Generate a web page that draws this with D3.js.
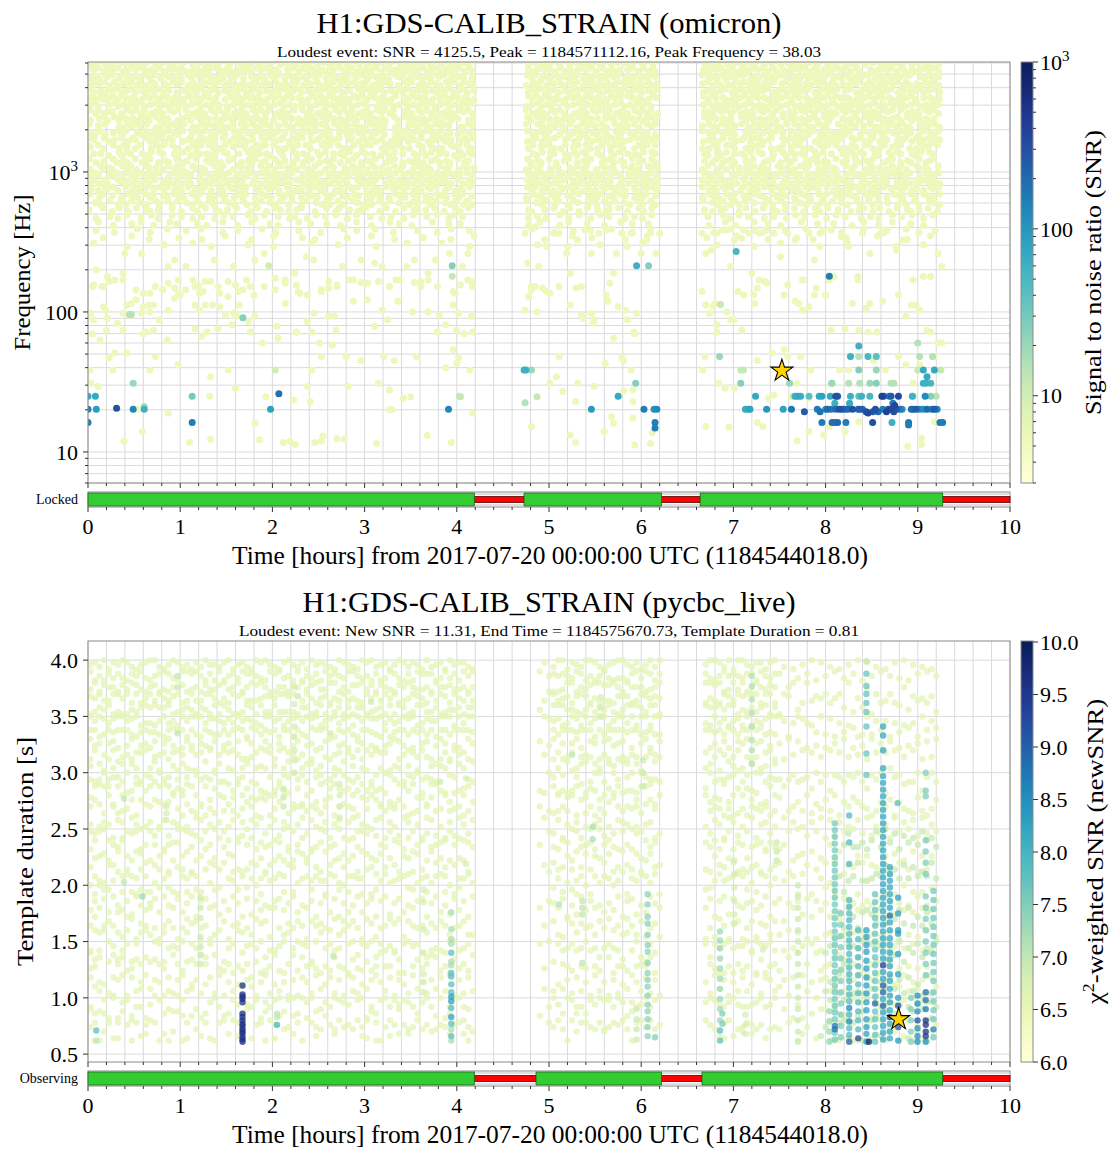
<!DOCTYPE html>
<html>
<head>
<meta charset="utf-8">
<script src="https://cdn.jsdelivr.net/npm/d3@7"></script>
<style>
  body { margin: 0; background: #fff; }
  svg text { font-family: "Liberation Serif", "DejaVu Serif", serif; fill: #000; }
</style>
</head>
<body>
<div id="chart"></div>
<script>
// ---------------- shared axis data ----------------
const hourRange = [0, 10];
const hourTicks = [0, 1, 2, 3, 4, 5, 6, 7, 8, 9, 10];
const xLabel = 'Time [hours] from 2017-07-20 00:00:00 UTC (1184544018.0)';

// ---------------- panel 1: omicron ----------------
const omiTitle = 'H1:GDS-CALIB_STRAIN (omicron)';
const omiSubtitle = 'Loudest event: SNR = 4125.5, Peak = 1184571112.16, Peak Frequency = 38.03';
const omiFreqRange = [6, 6100];
const omiFreqTicks = [10, 100, 1000];
const omiFreqLabels = ['10', '100', '10^3'];
const omiSnrRange = [3, 1000];
const omiSnrTicks = [10, 100, 1000];
const omiSnrLabels = ['10', '100', '10^3'];
const omiLoudest = [7.526, 38.03];

// dense high-frequency band: one row per 0.05 decade from 10^3.78 down,
// one cell per 0.05 h, digit 1-9 = a trigger (digit gives its place in the cell)
const omiBandTop = 3.78, omiBandStep = 0.05, omiBandCell = 0.05, omiBandSnr = 5.5;
const omiBandStarts = [0, 4.74, 6.65];
const omiBandEnds = [4.19, 6.22, 9.27];
const omiBandRows = [
  '528371946258 173946285739 462918375264 918273645192 837465291837 264591738264 591837264528 | 374615928374 562918374651 92837 | 618273945162 837491625384 719264835172 946381527394 6182',
  '947261835947 261839457126 384952716384 957261.48395 726184935726 148395627184 935726148392 | 615847293615 847293615.47 29361 | 538472916358 472916358472 91635847291. 635847291635 8472',
  '261947385261 947385261947 3852619473.5 261947385261 947385261947 385261947385 2619473852.1 | 847362915847 362915847362 91584 | 736291548736 291548736291 548736291548 7362915487.6 2915',
  '385729164837 295.61847392 658173942615 837492615738 491627385914 736285.19473 628519473862 | 195738462917 384629157384 62915 | 472816395728 1639.5728163 957281639572 816395728163 9572',
  '716394825716 394825.16394 825716394825 716394825716 394825716.94 825716394825 716394825716 | 394825716394 825716394825 71639 | 258147369258 147369258147 369258.47369 258147369258 1473',
  '639158274613 958274613958 2746.3958274 613958274613 958274613958 2746139.8274 613958274613 | 958274613958 274613958.74 61395 | 827461395827 461395827461 395827461395 82746139582. 4613',
  '481.59263748 159263748159 26374.159263 748159263.48 159263748159 2.3748159263 748159263748 | 1592637.8159 263748159263 7481. | 592637481592 63.481592637 481592637481 5926.7481592 6374',
  '837264.19582 73641958.736 419582736419 582736419.82 736419582736 4195827.6419 582736419582 | 736419582.36 419582736419 58273 | 641958273641 958273.41958 273641958273 641958.73641 9582',
  '2.5819374625 819374.25819 374625819374 625.19374625 819374625819 37462.819374 625819374.25 | 819374625819 3746.5819374 62581 | 9374625.9374 625819374625 81937.625819 374625819374 625.',
  '7.49..318574 9.3185749.31 85749318.749 3185.4931857 7493.8574931 18574.31.574 9318574.3185 | 7.93185749.1 857493.85749 3.857 | 493185749.18 5749318.7493 1857.93185.4 9318574931.5 7493',
  '6283.5917.62 835917628.59 176283.91762 8359176.8359 17628.591762 83591.628359 1762835.1762 | 835917.28359 176283.91762 835.1 | 76283591.628 359176.83591 762835917.28 3591762835.1 7628',
  '94.826.7394. 8267394.2673 9482.7394826 .9482673948. 2673948.6739 4826.394826. 7394826.3948 | 2673948.6739 .8267394826. 73948 | 26739.826739 8267.948267. 3948267.9482 67394.267394 4826',
  '5.71.8395.17 .3958.71.395 8.7139.58713 958.713958.7 1.958.7139.5 87.3958713.9 5.713.958.71 | 39.587139.58 .7139.5871.3 958.7 | 1395.871.395 87.139.58713 .958.71395.8 7139.587.139 58.7',
  '.46.2.9184.6 29.84.629.18 4629.84.6.91 8462.91.8462 .918.4629.18 46.2918.4.62 918.46.29184 | .629.84.6291 84.62.918.46 29.84 | 62.918.4629. 84.6.918462. 918.4.629184 .62.9184.629 .84.',
  '73.5.8162.73 58.162.735.8 .6273.58.162 735.816.2735 8.16273.58.1 627.358.1627 3.58162.735. | 8162.73.58.1 627.358162.7 35.81 | 6.273581.627 .358.1627.35 8162.735.816 27.358.162.7 358.',
  '2.9461.8372. 946.18372.94 61.837.29461 .83729.46183 37.294.61837 2946.1837.29 461.837.2946 | 1837.294.618 37.29461.837 2.946 | 18.3729.4618 372.946.1837 .29461.837.2 946.18372.94 61.8',
  '584.61729358 4617.293584. 1729358.4617 293584617.29 358.46172935 8461729.5846 172935846.72 | 935846.17293 584617293.58 46172 | 93584.617293 5846172935.4 617293.58461 7293584617.2 9358',
  '37291.845372 918.4537291. 4537291845.3 72918453.729 184537291.84 537.29184537 2918453.7291 | 845372918.53 7291845.3729 18453 | 72918453.729 1845.3729184 537291845.37 29184.537291 8453',
  '6.19482.7361 9.48273619.4 273.6194827. 619482.73619 4827.361948. 73619.482736 1948.273619. | 82736.194827 36.1948273.6 19482 | 7361948.2736 19.482736194 82.736194827 3619.482736. 1948',
  '8.27.4.1963. 827.41963.82 7.4196.3827. 1963.8274.19 63.827.4196. 8274.1963.82 .41963.827.4 | 1963.827.419 .3827.4196.3 827.4 | 1963.827.419 63.8274.1963 .827.41963.8 274.1963.82. 7419',
  '.53.9.2718.5 3.92.718.539 2.71.853.92. 18.539.27.18 .5392.71.853 92.718.5.392 .718.539.271 | 8.539.27.185 .392.718.53. 92.71 | 8.539.2718.5 .392.71.8539 .2718.53.92. 718.5.392.71 .853',
  '4..7.19.3.8. 62.4..7.1.93 .8.62.4.7..1 9.3.86.2.47. .1.9.38.6.24 7..19.3.8.62 .4.7.1.93.8. | 62..4.7.19.3 .8.6.24.7.1. 93.8. | 6.2.47..19.3 .8.62.4.7.1. 93.8.6..2.47 .19.3.8.62.4 .7.1',
  '.3..6.2.8..5 .9.1..7.4.3. 6..2.8.5..9. 1.7..4.36..2 .8.5.9..1.7. .4.3.6..2.8. .5.9..17.4.. | 3.6.2..8.5.9 ..1.7.4..3.6 .2.8. | .5..9.1.7.4. .3.6..2.8.5. 9..1.7.4..3. 6.2..8.5.9.. 1.7.',
  '..7..2...5.8 ..1..9.4...6 .3...7..2..8 ...5.1...9.. 4..6..3...7. .2...8.5..1. ..9...4.6... | 3..7...2.8.. .5...1..9..4 ..6.. | .3...7.2...8 ..5..1...9.. .4..6...3..7 ..2..8...5.. 1...',
  '.6...3....9. .2...7...4.. 8....1..5... .9..3....6.. ..2....8..4. ..7...1....5 ...3..9...6. | .8....2...5. ..4...9....1 ...7. | ..3...8....6 .1....4...9. ..5...2....7 ...3....8..1 ..6.',
  '...4.....8.. .1.....6.... 3....9.....2 ....7.....5. .1......4... .8....2..... 6.....3....9 | ....1.....7. ..5......3.. ..8.. | .4.....9.... ..2.....6... 1......5.... ..7.....3... .9..',
  '.7......2... ....5.....9. ..3.......6. ....1....... 8.....4..... ..2......7.. ....9.....3. | ..6......1.. ....4....... .8... | ...5.......2 .....7...... .3.....9.... ......1..... 4...'
];

// quieter triggers below the band [hours, Hz]
const omiQuiet = [
  [0.06,156],[0.17,152],[0.23,165],[0.38,169],[0.87,160],[0.94,148],[0.98,136],[1.06,144],[1.14,169],[1.20,154],[1.25,140],[1.33,165],[1.43,136],[1.52,129],[1.60,156],[1.63,140],[1.72,169],[1.80,132],[1.91,152],[2.03,144],[2.14,160],[2.26,156],[2.28,140],[2.38,132],[2.53,140],[2.61,148],[2.70,156],[2.84,169],[2.96,162],[3.03,160],[3.15,165],[3.27,152],[3.38,169],[3.54,162],[3.61,165],[3.69,169],[3.79,152],[3.96,140],[4.04,156],[4.12,169],[4.16,165],
  [0.03,98],[0.06,88],[0.17,109],[0.19,103],[0.21,90],[0.32,83],[0.38,98],[0.42,112],[0.45,95],[0.47,115],[0.52,122],[0.58,98],[0.60,109],[0.66,112],[0.67,100],[0.71,112],[0.77,88],[0.87,103],[0.94,125],[1.00,132],[1.16,112],[1.21,103],[1.27,112],[1.35,112],[1.43,109],[1.49,95],[1.58,98],[1.61,93],[1.64,112],[1.74,85],[1.81,93],[2.05,79],[2.14,115],[2.26,72],[2.38,85],[2.45,98],[2.61,93],[2.67,93],[2.88,119],[3.03,122],[3.19,103],[3.25,88],[3.36,119],[3.52,100],[3.69,100],[3.81,95],[3.96,112],[4.02,98],[4.16,93],
  [0.05,70],[0.13,63],[0.20,74],[0.23,47],[0.29,51],[0.38,74],[0.42,51],[0.60,70],[0.63,72],[0.71,74],[0.73,48],[0.86,63],[0.98,42],[1.16,76],[1.23,67],[1.29,72],[1.41,76],[1.56,81],[1.76,72],[1.89,60],[2.06,65],[2.26,72],[2.43,72],[2.51,60],[2.53,48],[2.65,58],[2.69,74],[2.80,48],[2.96,45],[3.11,79],[3.21,48],[3.32,45],[3.56,48],[3.79,72],[3.88,81],[4.00,74],[3.96,54],[4.02,47],[4.08,70],[4.17,72],[4.00,43],
  [0.02,38.5],[0.03,31],[0.11,29.3],[0.27,38.5],[0.67,38.5],[1.33,34.5],[1.52,38.5],[1.60,28.5],[2.38,29.3],[2.43,38.5],[2.82,29.3],[3.15,31],[3.27,27.7],[3.88,40],[4.14,38.5],
  [0.54,20.2],[0.87,18.9],[1.32,25],[1.81,16],[1.93,24.8],[2.23,23.5],[2.41,22.9],[3.27,20],[3.30,20],[3.42,24.2],[3.50,24.8],[4.17,18.9],
  [0.39,11.9],[0.59,14],[1.10,11.7],[1.33,12.3],[1.86,12.2],[2.12,11.7],[2.19,11.9],[2.25,11.3],[2.46,11.7],[2.53,11.9],[2.55,13],[2.70,12.4],[2.78,12.3],[3.13,11.5],[3.68,13.1],[3.94,11.7],
  [4.74,103],[4.78,129],[4.81,144],[4.85,152],[4.87,100],[4.93,148],[4.97,140],[4.81,15.2],[5.08,34.5],[5.01,31],
  [5.11,152],[5.23,112],[5.29,148],[5.35,95],[5.37,90],[5.46,98],[5.48,83],[5.49,88],[5.62,132],[5.64,119],[5.70,65],[5.75,109],[5.79,47],[5.81,45],[5.83,103],[5.85,88],[5.89,38.5],[5.91,27.7],[5.92,72],[5.93,70],[5.95,98],[5.31,31],[5.29,22.9],[5.15,27],[5.11,48],[5.49,29.5],[5.60,14],[5.68,17.9],[5.70,16],[5.81,27.3],[5.91,22.9],[5.91,17.5],[5.93,11.2],[6.10,11.5],[6.12,13.7],[5.61,43],[5.23,13.2],[5.29,11.7],
  [6.66,140],[6.70,112],[6.74,98],[6.78,110],[6.80,115],[6.82,81],[6.82,72],[6.93,100],[6.97,88],[7.01,88],[7.09,74],[7.05,140],[7.11,132],[7.22,132],[7.23,115],[7.26,148],[7.28,169],[7.36,160],[7.55,132],[7.59,156],[7.67,119],[7.71,115],[7.75,103],[7.82,109],[7.88,132],[7.90,148],[8.00,132],[8.04,169],[8.06,74],[8.21,76],[8.29,115],[8.35,169],[8.36,74],[8.44,106],[8.46,72],[8.48,115],[8.56,72],[8.62,119],[8.79,132],[8.87,93],[8.93,112],[8.98,112],[9.02,103],[9.10,74],[9.14,72],[9.22,60],[9.02,42],[9.18,48],[9.26,60],
  [6.67,38.5],[6.69,48],[6.84,31],[6.91,28.5],[7.01,28.5],[7.26,45],[7.38,24.2],[7.42,51],[7.55,54],[7.59,48],[7.73,48],[7.69,31],[7.82,24.2],[7.84,38.5],[8.15,38.5],[8.25,38.5],[8.52,45],[8.65,38.5],[8.79,48],[8.87,42],[8.95,31],
  [6.70,15.2],[6.95,15],[7.26,16.2],[7.32,15.2],[7.44,25.5],[7.63,24.8],[7.69,12],[7.82,14],[7.98,13.2],[8.04,15.2],[8.21,14],[8.36,16.4],[8.89,11],[9.04,11.3],[9.04,12.5],[9.18,16.4],
  [0.05,152],[0.09,200],[0.15,152],[0.21,179],[0.29,169],[0.38,189],[0.40,262],[0.52,144],[0.58,262],[0.60,136],[0.67,136],[0.73,152],[0.81,144],[0.87,211],[0.94,235],[0.98,169],[1.06,211],[1.16,152],[1.21,136],[1.27,165],[1.37,235],[1.41,152],[1.52,165],[1.58,211],[1.68,144],[1.76,152],[1.81,235],[1.91,262],[2.03,174],[2.14,169],[2.24,189],[2.30,136],[2.37,248],[2.45,235],[2.53,144],[2.61,165],[2.70,152],[2.76,211],[2.88,169],[2.96,235],[3.03,160],[3.11,223],[3.19,211],[3.27,152],[3.34,169],[3.46,211],[3.54,235],[3.61,152],[3.69,189],[3.77,235],[3.92,262],[3.98,136],[4.06,211],[4.12,262],[4.17,152],
  [6.66,365],[6.70,262],[6.76,277],[6.82,365],[6.88,385],[6.93,385],[6.97,211],[7.01,327],[7.09,336],[7.11,385],[7.17,365],[7.20,189],[7.28,365],[7.34,165],[7.36,385],[7.44,365],[7.51,248],[7.59,365],[7.67,327],[7.75,169],[7.82,365],[7.88,235],[7.94,365],[8.06,385],[8.09,179],[8.17,345],[8.25,293],[8.35,179],[8.40,365],[8.48,262],[8.60,365],[8.67,385],[8.77,277],[8.83,327],[8.95,169],[9.06,179],[9.14,179],[9.22,262],[9.26,211],
  [5.11,365],[5.19,262],[5.31,327],[5.39,385],[5.46,262],[5.54,365],[5.62,385],[5.70,189],[5.73,262],[5.79,365],[5.85,293],[5.89,365],[6.00,262],[6.06,327],[6.10,365],[6.16,262],[6.20,365],[5.66,160],[5.35,152],[5.23,189],
  [4.74,365],[4.77,223],[4.85,405],[4.89,211],[4.97,293],[5.05,365],[4.81,152],[5.01,136]
];

// louder triggers [hours, Hz, SNR]
const omiLoud = [
  [0.0,25,70],[0.08,25,70],[0.0,20.2,150],[0.09,20.2,90],[0.0,16.2,150],[0.31,20.5,300],[0.49,20.2,130],[0.49,31,20],[0.61,20.2,60],[0.61,21,20],[1.13,25,30],[1.13,16.2,150],[1.68,91,25],[1.98,20.2,80],[2.07,26,180],[3.91,20.2,130],[4.73,38.5,60],[4.75,38.5,60],[4.81,38.5,20],[0.45,96,15],[0.47,96,15],[3.95,214,25],[3.95,180,12],[1.96,214,10],[2.03,38.5,10],[4.03,25,12],[4.74,22.5,15],[4.87,24.8,12],[4.04,24.8,12],
  [5.95,214,60],[6.08,214,25],[7.03,270,50],[8.04,180,150],
  [5.46,20.2,90],[5.75,25,70],[5.94,31,25],[6.03,20.2,150],[6.14,20.2,110],[6.17,20.2,120],[6.15,16.2,150],[6.15,14.8,150],[6.86,113,12],[6.85,48,20],[7.08,38.5,12],[7.11,38.5,12],[7.08,31,25],[7.24,25,70],[7.13,20.2,70],[7.16,20.2,70],[7.18,20.2,80],[7.36,20.2,100],[7.54,20.2,80],[7.63,20.2,160],[7.61,31,20],[7.77,19.4,250],
  [7.67,25,60],[7.70,25,70],[7.73,25,60],[7.82,25,40],[7.93,25,70],[7.96,25,80],[8.05,25,70],[8.11,25,300],[8.13,25,250],[8.27,25,60],[8.36,25,40],[8.39,25,60],[8.48,25,50],[8.61,25,400],[8.63,25,250],[8.69,25,150],[8.71,25,250],[8.79,25,350],[8.94,25,60],[9.08,25,120],[9.14,25,25],[9.20,25,15],[7.65,25,12],[8.95,25,15],
  [7.91,20.2,150],[7.94,19.4,180],[8.00,20.2,100],[8.02,20.2,200],[8.06,20.2,150],[8.11,20.2,200],[8.15,20.2,300],[8.18,20.2,250],[8.21,20.2,150],[8.24,20.2,200],[8.29,20.2,300],[8.35,20.2,150],[8.37,20.2,250],[8.40,20.2,200],[8.44,19.4,300],[8.46,19,350],[8.51,19.4,250],[8.54,20.2,300],[8.57,19.4,200],[8.62,20.2,150],[8.66,19.4,400],[8.68,20.2,300],[8.71,20.2,350],[8.74,19.4,300],[8.77,20.2,250],[8.81,20.2,150],[8.83,20.2,100],[8.93,20.2,200],[8.95,20.2,150],[8.98,20.2,250],[9.02,20.2,120],[9.06,20.2,100],[9.10,20.2,200],[9.15,20.2,150],[9.18,20.2,250],[9.21,20.2,120],
  [7.96,16.2,150],[8.07,16.2,180],[8.10,16.2,150],[8.13,16.2,200],[8.22,16.2,150],[8.51,16.2,300],[8.72,16.2,60],[8.90,16.2,150],[8.90,15.6,150],[9.24,16.2,150],[9.27,16.2,150],
  [8.10,22.3,60],[8.26,22.3,70],[8.73,22.3,150],[8.75,21.5,350],
  [8.36,57,60],[8.27,48,60],[8.46,48,50],[8.55,48,40],[8.36,48,15],[9.02,48,15],[9.16,48,15],[8.36,38.5,25],[8.55,38.5,20],[9.06,38.5,70],[9.18,38.5,70],[9.00,38.5,12],[9.25,38.5,12],[9.10,34.5,70],[8.07,31,20],[8.25,31,15],[8.37,31,15],[8.48,31,20],[8.55,31,25],[8.71,31,15],[8.74,31,15],[9.06,31,60],[9.09,31,60],[9.14,31,50],[9.00,60,15],[8.06,31,10]
];

const lockedOn = [[0, 4.19], [4.73, 6.22], [6.64, 9.27]];
const lockedOff = [[4.19, 4.73], [6.22, 6.64], [9.27, 10]];

// ---------------- panel 2: pycbc_live ----------------
const pyTitle = 'H1:GDS-CALIB_STRAIN (pycbc_live)';
const pySubtitle = 'Loudest event: New SNR = 11.31, End Time = 1184575670.73, Template Duration = 0.81';
const pyDurRange = [0.43, 4.17];
const pyDurTicks = [0.5, 1.0, 1.5, 2.0, 2.5, 3.0, 3.5, 4.0];
const pyDurLabels = ['0.5', '1.0', '1.5', '2.0', '2.5', '3.0', '3.5', '4.0'];
const pySnrRange = [6, 10];
const pySnrTicks = [6.0, 6.5, 7.0, 7.5, 8.0, 8.5, 9.0, 9.5, 10.0];
const pySnrLabels = ['6.0', '6.5', '7.0', '7.5', '8.0', '8.5', '9.0', '9.5', '10.0'];
const pyLoudest = [8.792, 0.81];

// background triggers: one string per 0.05 h column, one character per 0.1 s of
// template duration from 4.0 s down. Each letter is one trigger; a..e place it
// 0.00..0.08 s below the top of its slot; capitals are slightly louder ones.
const pyColTop = 4.0, pyColStep = 0.1, pyColHours = 0.05, pySlotStep = 0.02;
const pyQuietSnr = 6.6, pyLouderSnr = 6.95;
const pyColStarts = [0.025, 4.9, 6.7];
const pyColsA = [
  'cadbeab aecd.ba dbe.c.a .bd.eac b.ead.c', 'beacdcb da.ebc. .cad.be ce.a.db .a.cbe.', 'dceabae c.bdae. eb.c.da .a.bec. dc.b.ea',
  'aebdcbd .ceab.d ca.b.ec b.da... e.bc.ad', 'ebcdadb ce.dba. d.aeb.c .cb.ae. .d.eb.c', 'bdcaebc badc.ea .ec.bd. a.d.cb. bea..dc',
  'cbeadab e.acb.d b.dae.. ec.b.da c..ebd.', 'adbceab .dbe.ac cea..bd .b.dec. a.cb..e', 'bedaecb dc.ae.b .b.cda. ce.ab.d .eb.c.a',
  'dbaecbd aeb.dc. ac.e.bd .da..ec b..dae.', 'ecbadae .bdca.e db.a.ce a..ebd. .ce.b.d', 'cadebec db.eac. .aebd.c e.cb..a dbe..c.',
  'bdecadb ca.bde. e.c.abd .bda.c. a..ecb.', 'aecabdc e.dcb.a cb.e..d da.c.e. .bd.a.e', 'acbdaec bdae.c. .dc.be. b.e.ad. ce..b.d',
  'dbeabcd .ceabd. ea.cd.b .c.eb.a d.b..ec', 'eadcbae cb.dae. b.ea.c. a.db.ec .e.c.bd', 'cbedadb ae.cbd. .dc.eab e.b.d.. bc.a.ed',
  'adcbeca dbc.ea. c.be..d .ae.cb. .d.b.ac', 'beCadeb .aedc.b dab.c.e b..ed.a ce.b...', 'dabecab ecb.dae .a.cdb. .ce.a.d a.bd.ec',
  'caedbce b.dcae. eb.a.cd d.ab.e. .c..bda', 'ebdacab dae.b.c .cd.ea. a.c.bd. eb.d..c', 'bacdead .ceb.ad ad.e.bc .eb.d.a c..ae.b',
  'dcedbae cb.d.ea b.ac..d c.e.ab. .d.e.c.', 'aebacdb d.acb.e .be.d.. b.d..ca e..cb.d', 'cbdaebc ea.d.cb d.c.ae. .a.eb.. b.c..da',
  'cedcabd b.eac.d .a.db.c e..c.b. .da..e.', 'dabeecd .cbe.a. ce..d.b .d.a..c a.e.b..', 'beacadb da.e.bc .bd.a.. c.b..ed .e.da.b',
  'acdecbd cbd.ae. e.ab.c. .b.ed.a d..c.be', 'ebcaedb .ae.dbc b..ced. a.d.b.e .cb.a.d', 'cdabeaa bc.da.e .eb.d.c d.ca..b e.d.bc.',
  'baeadcb .edc.ab cd..eb. .e.b.ad .a.ce.b', 'dbcdabe aeb.cd. .ac.d.b b.e.c.a c.da..e', 'ebadbca cd.e.ba be..ac. .d.cb.. bae..d.',
  'acbdedb .bd.ace d.e.b.a c.a.de. .eb.c.d', 'bdacaed e.c.db. a.bd.ce .bc.a.e d..eb.c', 'aecbdab bad.ec. .cd.ea. e.b..cd a.cb.e.',
  'caebdac db.c.ae e.c.bd. .a.de.b .de.a.c', 'dbecacb .ec.dab b.ae.c. ca..eb. e.b.cd.', 'eacadbe ca.ebd. .dbc.a. b.e.c.d .cad..b',
  'bdcadeb e.dbca. ca.e.bd .b.ca.e d..be.c', 'acebdcb .bace.d e.dab.. d.cb..a .eb.d.c', 'cebadbe dc.a.eb .b.ec.d a.e.db. c.ad.b.',
  'dacBeab be.dc.a d.ca.e. .cb.a.d .e.cb.a', 'beadbcd .cdb.ea ae.b.c. e.d.bc. b.a..ed', 'ecdabae d.be.ac .c.dab. .a.ec.b d.ce..a',
  'adbceba ceb.d.a b.ea.dc c.b..ea .da.b.c', 'cbaedab .aec.db e.d.cb. .ed.a.c a..bdc.', 'bedcaeb e.cba.d .ab.ed. d.cb..e .b.ae.d',
  'cadbeca bd.e.ca cb.a.de a.e.d.b e.cd..b', 'dcaeabd ae.dcb. .ed.ba. .c.ab.d b.e.c.a', 'ebacdae .cdba.e d.ce.b. b.a.ec. .da.eb.',
  'acedbdb dbe.c.a ba.d.ec .e.cd.b c.b.a.e', 'bdcaebc c.abde. .e.bc.a d.ba..c .ec.d.b', 'caedbab eb.dc.a c.ae.bd .cd.b.e a.d.c.b',
  'dabceed .dce.ab ae.c.b. e.b.ad. bc..e.d', 'ecbdbae ba.cd.e .bd.ec. a.e..bc .db.a.c', 'adaebcb ced.ab. db.a.ce .c.eb.d e.a.dc.',
  'bcdaeab .ae.dcb ec.bd.. d.a.ce. .b.ead.', 'aebcdbc dc.eba. .a.dc.e b.c.a.d c.eb..a', 'dbeacbd ea.bdc. bd.e.ac .e.d.cb a..cbe.',
  'cebdbae .bd.cea a.cb.d. c.e.ba. d.b..ec', 'bdcaedb db.ae.c .ed.ca. a.d.e.b .ca.d.e', 'eadcabe c.eb.da cb.d.e. .da.c.b b.e.ac.',
  'cbeaedc a.cd.eb e.a.bd. d.c.ea. .eb.c.d', 'adbeacb bed.ac. .db.ec. b.a..de c.da.b.', 'becdbab dc.eb.a a.ec.b. .c.db.e e.b.c.d',
  'dbacebd .acbd.e ce.d.ab e.b.a.. .dc.eb.', 'becadab eb.ca.d .b.ae.c .ad.c.b a.e.d.c', 'cadbaec .dea.bc d.cb.e. c.e.bd. .b.ca.e',
  'ebdcadb ca.deb. .ea.dc. b.d..ac d.c.e.b', 'abcedbd bd.c.ea ac.e.bd .e.b.ca .da.c.e', 'dbeadcb .ecdab. b.da.e. d.c.eb. c.e..ad',
  'ceadbce d.bea.c .dc.ab. a.e.dc. .b.de.c', 'bdcaeab aec.d.b e.bd.a. .cb.e.d b.a.c.e', 'eacbdab cbd.ea. .ea.cbd e.d..ab .c.ed.b',
  'adbecad .eab.dc cb.e..a .d.ca.e a.ec.b.', 'cbdaceb da.ce.b .dc.b.e b.e.ad. .ea.c.d', 'bedcbab ecb.d.a ae.d.cb .bd.e.c c.a.b.e',
  'bacdedb .bd.cae d.ae.c. c.b.d.a .de.ab.', 'dceabab ae.db.c .cb.ea. .e.cb.d b..ade.', 'eacdbac c.ae.d. b.d..e. a..c.b. .c...a.'
];
const pyColsB = [
  '.a..c.. b...d.a ..c.... .a..b.. ...d..a', 'b..d.a. .c..e.. a...b.. ..d...c .b....e', '.ce..b. d..a..c .b..e.. c...a.. ..e.b..',
  'dbeaacb ae.cb.d .cd.a.b d.b..e. .ca.d.b', 'acedabd .bd.eac b.e.dc. .a.cb.. e.d.a.c', 'abdcaeb ce.bd.a .ea.c.d b..de.a .b.ce.d',
  'ecabcdb .da.ebc d.bc.e. .ea.d.b c.a..ed', 'bdaecab cbe.da. .a.ed.c e.c.b.d .db.a.e', 'caebdbc a.dcb.e cb.a.de .d.be.. b.ec.a.',
  'dbcaeeb edb.ac. .ed.cb. a.c.d.b .ce.b.d', 'aedbcab .ca.ebd e.cb..a .be.a.c d..cb.e', 'acbeadb bd.ec.a .ab.d.e c.d.e.. .eb.d.a',
  'beacdbe c.bad.e d.ec.b. .a.cd.b a.d.e.c', 'dcaebab .eda.cb ba.d.e. e.b..cd .ca.b.e', 'eabdcad bc.e.ad .dc.ab. .ce.d.. d.b.ea.',
  'cdbdaeb aeb.cd. e.ab.c. d.a.bc. .eb.d.a', 'beaedcb d.caeb. .cd.e.a .b.ad.e c.e.b.d', 'adcbeab ce.db.a b.e.cd. a.d.e.b .da.c.e',
  'adebcab bda.e.c cb.ae.. .e.c.db e.c.a.d', 'ceabadc .ebcd.a d.c.b.e c.ab..d .b.de.a', 'dbceaab ec.ad.b .ae.dc. b.d.e.. a.cb.e.',
  'bacdaeb .db.eca ec.b.d. .d.ca.b d.e.b.c', 'edcabad c.eab.d .b.dea. e.b..ca .cd.a.e', 'caebdac ad.cbe. d.ae.b. .c.d.eb b.a.d.e',
  'abdcaeb eb.dac. c.db.e. a.e.bc. .de.a.b', 'decbaad .cad.eb .eb.ca. d.c..ae c.b.e.d', 'abacead bd.e.a. .c..b.e .a.d... .e..c..'
];
const pyColsC = [
  'cbaeadb .bd.ca. e.b.d.c .a.eb.. d.c.a.e', 'adacbeb e.ba.dc .cd.e.b b.e..ca .da.c.e', 'aebdbac cd.e.ba b.ac.d. .e.db.c a.b.e.d',
  'bcaeadb .aed.cb d.e.ba. c.a.d.e .bd..ca', 'daeacbd bc.da.e .ea.cd. a.d.b.e c.e.bd.', 'acdbaea e.ac.db ab.d.c. .d.ea.b .ec.a.d',
  'ebadacb .dcb.ae c.e.ab. b.c.d.e d.a..cb', 'acdaebd bae.c.d .db.ea. e.b.c.a .cd.e.b', 'adabceb c.de.ab e.c.db. .a.ec.d b.e.da.',
  'cbeadab ad.bc.e .b.de.c d.e.a.b .ce.b.d', 'dbcabea .eb.dca a.d.ce. c.b.ea. e.d.cb.', 'beaadcb cd.ae.b .ec.b.d .b.da.e a.c.e.d',
  'bacebda b.da.ec d.b.ea. e.c.bd. .da.c.b', 'ecdaabd .bce.da c.ea.b. a.d.c.e b.e..dc', 'bdbaeac da.cb.e .cb.d.a .e.ca.b c.d.e.a',
  'abcebad .ebd.ac e.d.bc. d.b.e.a .ca.d.e', '.b..ea. c..d.b. ..e.a.. b..c..d .a..e..', 'd..a.c. .e..b.. a.c..d. ..b.e.. c..a..b',
  '..cb..e a..d..c .b..e.. d..a.c. .e..b..', 'e.a..d. .c.b..a c..e.b. .a..d.. b..e..c', '.d..ca. b..e.d. .a.c..e c..b.a. ..d..e.',
  'c..e.b. .a.d..c e..b.a. .d..c.. a..e.b.', '.ba..d. e..c.a. .d..b.. b..e..a .c..d..', 'a..d.e. .b..c.d c..a..e .e..b.. d..c..a',
  '.e.b..c d..a.e. .b..d.. c..e.a. ..a..db', 'b..c.a. .d.e..b a..d.c. .b..e.d c..a.Cb', '.c.a..d e..b.c. .e..a.b d..c.Ab bC.aD.c',
  'd..e.b. .a..d.c b.c..e. .e.bC.a DcB.aEb', '.a.c..e c..b.a. .d.e..c a..DbC. cBdA.eD', 'e..a.d. .b.c..e c..a.B. .CaD.bE aD.cBeA',
  '.d..b.c a..e.d. .bC..aD b.Ec.dA .cBdA.e', 'c.a..e. .d.b..a eC..bD. cA.eB.d Be.CaDc', '.b..d.a e..c.b. .aD.cB. dE.bC.a cDa.BeC',
  'a..c..e .c.a.d. b.DcA.e .bE.dC. aCbD.eB', '.e..b.d d..e..a .cB.aD. eC.bA.d .DcB.Ea', 'b.d..a. .e..c.b a.Ec.D. cB.dA.e BdA.cEb',
  '.c..e.d a..b..e .dA.bC. eD.cB.a cB.eAdC', 'd..a.c. .b.d..c eB..cA. .dC.bE. aEcD.bA', '.a.e..b c..a.d. .cD.eB. bA.dC.e DbE.aCd',
  'e..d.c. .b..e.a dA.cB.e .eC.aD. cAdB.eC', '.c.a..e b.d..c. .eB.dA. cD.bE.a BeC.dAb', 'b..e.d. .a.c..e aC.bD.e .dA.cB. eBdC.aE',
  '.d..a.c e..b.d. .bE.aC. dB.eA.c CaD.bEd', 'a.c..e. .d..a.b cD.eB.a .bC.dE. aDbE.cB', '.e..c.a d..e..c .aB.dC. eA.cD.b BcE.aDc',
  'c..b.d. .a.e..d bE.aC.d .cD.bA. dCaB.eA', '.b.d..e c..a.b. .dC.eB. aE.dB.c EbD.cAe', 'd..c.a. .e..d.c aB.cE.d .aD.eC. cEbA.dB',
  '.a.e..b b..c..e .cA.dB. eC.aD.b AdC.bEa', 'e..b.c. .d.a..b dE.cA.b .bC.eA. bDcE.aC', '.c..d.a a..e.c. .bD..C. c..dA.. .aE.c..'
];

// louder stripes [hours, newSNR, durations]
const pyStripes = [
  [0.09, 7.8, [0.71]], [0.09, 7.0, [0.62]],
  [0.39, 7.0, [2.03, 2.77]], [0.59, 7.3, [1.90]], [0.85, 6.8, [2.70, 2.64, 2.58]], [0.97, 7.0, [3.86, 3.35]],
  [1.22, 6.9, [1.89, 1.80, 1.71, 1.54, 1.45, 1.38, 1.30]],
  [1.676, 9.6, [1.11, 1.03, 1.01, 0.99, 0.96, 0.86, 0.83, 0.80, 0.77, 0.75, 0.72, 0.70, 0.68, 0.65, 0.63, 0.61]],
  [2.05, 8.0, [0.76]], [2.05, 7.0, [0.83, 0.86]], [2.12, 6.9, [2.85, 2.78, 2.70]],
  [2.24, 6.8, [3.76, 3.61, 3.41, 3.32, 3.20, 3.11, 3.00]],
  [2.63, 6.8, [3.35]], [2.66, 7.0, [1.37]], [2.73, 6.8, [2.90, 2.80, 2.70, 2.60]], [3.07, 6.9, [3.63]],
  [3.64, 6.8, [1.96, 1.85, 1.61, 1.40, 1.21, 1.14, 1.05]], [3.82, 6.9, [2.92]],
  [3.94, 7.2, [1.76, 1.61, 1.52, 1.48, 1.32, 1.29, 0.72, 0.62]],
  [3.94, 7.8, [1.40, 1.22, 1.19, 1.12, 1.05, 0.91, 0.77, 0.66]],
  [3.94, 8.3, [1.01, 0.97, 0.83]], [4.10, 6.8, [2.95, 2.19]],
  [5.11, 7.1, [1.83]], [5.25, 7.0, [3.16]], [5.36, 7.0, [1.86, 1.80, 1.74, 1.31]], [5.475, 7.2, [2.52, 2.41]],
  [5.56, 6.8, [3.67, 3.58, 3.50]], [5.95, 6.9, [0.90, 0.81, 0.72, 0.63]], [6.02, 6.9, [3.11, 3.00, 2.88]],
  [6.07, 7.4, [1.92, 1.83, 1.72, 1.66, 1.56, 1.47, 1.41, 1.31, 1.22, 1.16, 1.10, 1.02, 0.94, 0.88, 0.81, 0.74, 0.66]],
  [6.15, 7.5, [0.65]],
  [6.855, 7.3, [1.59, 1.51, 1.44, 1.35, 1.26, 1.17, 1.08, 0.99, 0.90, 0.80]], [6.855, 7.8, [0.71, 0.62]],
  [6.88, 7.5, [0.86, 0.77]], [7.01, 6.8, [2.22, 2.10, 1.98, 1.86, 1.74, 1.66]], [7.13, 6.8, [0.85, 0.76, 0.68]],
  [7.20, 7.1, [3.86, 3.77, 3.65, 3.53, 3.41, 3.29, 3.20, 3.08]], [7.32, 6.8, [1.43]], [7.47, 6.9, [2.38, 2.30, 2.22]],
  [7.70, 6.9, [2.00, 1.90, 1.80, 1.70, 1.60, 1.50, 1.40, 1.30, 1.20, 1.10, 1.00, 0.90, 0.80, 0.70, 0.61]],
  [8.04, 7.3, [0.88, 0.79, 0.70, 0.61]],
  [8.10, 7.6, [2.55, 2.49, 2.43, 2.37, 2.31, 2.25, 2.19, 2.13, 2.07, 2.01, 1.95, 1.89, 1.83, 1.77, 1.71, 1.65, 1.59, 1.53, 1.47, 1.41, 1.35, 1.29, 1.23, 1.17, 1.11, 1.05, 0.99, 0.93, 0.87, 0.81, 0.69, 0.63]],
  [8.10, 8.8, [0.75, 0.72]],
  [8.165, 7.5, [1.75, 1.65, 1.55, 1.45, 1.35, 1.25, 1.15, 1.05, 0.95, 0.85, 0.75, 0.65]],
  [8.256, 7.9, [2.62, 2.38, 2.19, 1.87, 1.81, 1.75, 1.69, 1.63, 1.57, 1.51, 1.45, 1.39, 1.33, 1.27, 1.21, 1.15, 1.09, 1.03, 0.97, 0.85, 0.73, 0.67]],
  [8.256, 8.6, [0.91, 0.79]], [8.256, 9.0, [0.61]],
  [8.354, 7.9, [1.60, 1.52, 1.44, 1.36, 1.28, 1.20, 1.12, 1.04, 0.96, 0.88, 0.80, 0.72]], [8.354, 9.3, [0.64]],
  [8.443, 7.7, [3.88, 3.77, 3.70, 3.62, 3.54, 3.41, 3.17, 2.98]], [8.443, 7.0, [3.99]],
  [8.443, 8.3, [1.60, 1.54, 1.47, 1.41, 1.33, 1.26, 1.18, 1.11, 1.04, 0.96, 0.89, 0.81, 0.74, 0.68, 0.61]],
  [8.47, 9.8, [0.61]],
  [8.537, 7.7, [1.92, 1.85, 1.78, 1.71, 1.64, 1.57, 1.50, 1.43, 1.36, 1.29, 1.22, 1.15, 1.08, 1.01, 0.88, 0.81, 0.74, 0.67, 0.61]],
  [8.537, 9.0, [0.95]],
  [8.624, 8.2, [3.41, 3.33, 3.20, 3.04, 2.97, 2.91, 2.85, 2.79, 2.73, 2.67, 2.61, 2.55, 2.49, 2.43, 2.37, 2.31, 2.25, 2.19, 2.13, 2.07, 2.01, 1.95, 1.89, 1.83, 1.77, 1.71, 1.65, 1.59, 1.53, 1.47, 1.41, 1.35, 1.23, 1.17, 0.99, 0.87, 0.81, 0.75, 0.69, 0.63]],
  [8.624, 9.5, [1.29]], [8.624, 9.0, [1.11, 1.05, 0.93]],
  [8.697, 8.2, [2.16, 2.10, 2.04, 1.98, 1.92, 1.86, 1.80, 1.67, 1.60, 1.53, 1.47, 1.40, 1.34, 1.28, 1.21, 1.15, 1.08, 1.02, 0.96, 0.89, 0.77, 0.70, 0.64]],
  [8.697, 8.9, [1.73]], [8.697, 9.5, [0.83]],
  [8.78, 7.8, [2.73]], [8.787, 8.3, [1.89, 1.75, 1.60, 1.57, 1.39, 1.21, 1.00, 0.62]], [8.787, 9.1, [0.93, 0.74]],
  [8.925, 7.5, [1.00, 0.90, 0.80, 0.70, 0.61]],
  [8.997, 8.5, [1.02, 0.95, 0.88, 0.73, 0.66, 0.61]], [8.997, 9.2, [0.80]],
  [9.086, 7.5, [3.00, 2.84, 2.79, 2.40, 2.30, 2.20, 2.10, 1.90, 1.80, 1.70, 1.60, 1.50, 1.40, 1.30, 1.20]],
  [9.086, 8.8, [1.05, 0.98, 0.90]], [9.086, 9.6, [0.80, 0.76, 0.70, 0.66]], [9.086, 8.5, [0.61]],
  [9.17, 7.6, [1.95, 1.87, 1.79, 1.71, 1.63, 1.55, 1.47, 1.39, 1.31, 1.23, 1.15, 1.05, 0.97, 0.89, 0.81, 0.65]],
  [9.17, 8.6, [0.72]]
];

const observingOn = [[0, 4.19], [4.86, 6.22], [6.66, 9.27]];
const observingOff = [[4.19, 4.86], [6.22, 6.66], [9.27, 10]];

// ---------------- decode the point tables ----------------
const omiPoints = [];
omiBandRows.forEach((row, r) => {
  const lf = omiBandTop - r * omiBandStep;
  row.split('|').forEach((seg, s) => {
    seg.replace(/ /g, '').split('').forEach((ch, c) => {
      if (ch === '.') return;
      const k = +ch - 1;
      const t = omiBandStarts[s] + (c + 0.5) * omiBandCell + ((k % 3) - 1) * 0.012;
      if (t > omiBandEnds[s]) return;
      omiPoints.push({ t, v: Math.pow(10, lf + (Math.floor(k / 3) - 1) * 0.012), snr: omiBandSnr });
    });
  });
});
omiQuiet.forEach(d => omiPoints.push({ t: d[0], v: d[1], snr: omiBandSnr }));
omiLoud.forEach(d => omiPoints.push({ t: d[0], v: d[1], snr: d[2] }));

const pyPoints = [];
[pyColsA, pyColsB, pyColsC].forEach((cols, s) => {
  cols.forEach((col, c) => {
    const t = pyColStarts[s] + c * pyColHours;
    col.replace(/ /g, '').split('').forEach((ch, r) => {
      const slot = 'abcde'.indexOf(ch.toLowerCase());
      if (slot < 0) return;
      const v = pyColTop - r * pyColStep - slot * pySlotStep;
      if (v < 0.6) return;
      pyPoints.push({ t, v, snr: ch === ch.toUpperCase() ? pyLouderSnr : pyQuietSnr });
    });
  });
});
pyStripes.forEach(([t, snr, durs]) => durs.forEach(v => pyPoints.push({ t, v, snr })));

// ---------------- drawing ----------------
const svg = d3.select('#chart').append('svg')
  .attr('width', 1119)
  .attr('height', 1150)
  .style('background', '#fff');

const plotLeft = 88, plotRight = 1010, cbLeft = 1021, cbRight = 1033;
const x = d3.scaleLinear().domain(hourRange).range([plotLeft, plotRight]);
const minorHours = d3.range(0, 51).map(i => i / 5);
const gridColor = '#dadada', spineColor = '#8a8a8a', tickColor = '#333';

function tickText(sel, s, supSize) {
  const parts = s.split('^');
  sel.text(parts[0]);
  if (parts[1]) sel.append('tspan').attr('dy', -9).attr('font-size', supSize).text(parts[1]);
}

function fitText(sel, width) {
  sel.attr('textLength', width).attr('lengthAdjust', 'spacingAndGlyphs');
}

function drawPanel(p) {
  const g = svg.append('g');
  const y = p.y;
  const top = p.top, bottom = p.bottom;

  // titles
  fitText(g.append('text').attr('x', 549).attr('y', p.titleY).attr('text-anchor', 'middle')
    .attr('font-size', 30).text(p.title), p.titleW);
  fitText(g.append('text').attr('x', 549).attr('y', p.subY).attr('text-anchor', 'middle')
    .attr('font-size', 14).text(p.subtitle), p.subW);

  const clipId = 'clip-' + p.key;
  g.append('clipPath').attr('id', clipId).append('rect')
    .attr('x', plotLeft).attr('y', top)
    .attr('width', plotRight - plotLeft).attr('height', bottom - top);

  // grid
  g.append('g').selectAll('line').data(minorHours).join('line')
    .attr('x1', d => x(d)).attr('x2', d => x(d))
    .attr('y1', top).attr('y2', bottom)
    .attr('stroke', gridColor).attr('stroke-width', 1);
  g.append('g').selectAll('line').data(p.yGrid).join('line')
    .attr('x1', plotLeft).attr('x2', plotRight)
    .attr('y1', d => y(d)).attr('y2', d => y(d))
    .attr('stroke', gridColor).attr('stroke-width', 1);

  // triggers, quietest first
  const pts = p.points.slice().sort((a, b) => a.snr - b.snr);
  g.append('g').attr('clip-path', `url(#${clipId})`)
    .selectAll('circle').data(pts).join('circle')
    .attr('cx', d => x(d.t))
    .attr('cy', d => y(d.v))
    .attr('r', p.radius)
    .attr('fill', d => p.color(d.snr))
    .attr('fill-opacity', p.opacity);

  // loudest event
  g.append('path')
    .attr('d', d3.symbol(d3.symbolStar, 150)())
    .attr('transform', `translate(${x(p.star[0])},${y(p.star[1])})`)
    .attr('fill', '#ffd300').attr('stroke', '#000').attr('stroke-width', 1.1);

  // frame
  g.append('rect').attr('x', plotLeft).attr('y', top)
    .attr('width', plotRight - plotLeft).attr('height', bottom - top)
    .attr('fill', 'none').attr('stroke', spineColor);

  // y ticks
  g.append('g').selectAll('line').data(p.yMinor).join('line')
    .attr('x1', plotLeft - 3).attr('x2', plotLeft)
    .attr('y1', d => y(d)).attr('y2', d => y(d)).attr('stroke', tickColor);
  g.append('g').selectAll('line').data(p.yTicks).join('line')
    .attr('x1', plotLeft - 5).attr('x2', plotLeft)
    .attr('y1', d => y(d)).attr('y2', d => y(d)).attr('stroke', tickColor);
  g.append('g').selectAll('text').data(p.yTicks).join('text')
    .attr('x', 78).attr('y', d => y(d)).attr('dy', '0.35em')
    .attr('text-anchor', 'end').attr('font-size', 22)
    .each(function (d, i) { tickText(d3.select(this), p.yLabels[i], 15); });

  // x ticks under the plot (no labels)
  g.append('g').selectAll('line').data(minorHours).join('line')
    .attr('x1', d => x(d)).attr('x2', d => x(d))
    .attr('y1', bottom).attr('y2', d => bottom + (Number.isInteger(d) ? 5 : 3))
    .attr('stroke', tickColor);

  // y label
  fitText(g.append('text')
    .attr('transform', `translate(${p.yLabelX},${(top + bottom) / 2}) rotate(-90)`)
    .attr('text-anchor', 'middle').attr('font-size', 24).text(p.yLabel), p.yLabelW);

  // state bar
  const b = p.bar;
  g.append('rect').attr('x', plotLeft).attr('y', b.y0)
    .attr('width', plotRight - plotLeft).attr('height', b.y1 - b.y0)
    .attr('fill', '#fff').attr('stroke', spineColor);
  g.append('g').selectAll('rect').data(p.off).join('rect')
    .attr('x', d => x(d[0])).attr('width', d => x(d[1]) - x(d[0]))
    .attr('y', b.y0 + 2).attr('height', b.y1 - b.y0 - 4)
    .attr('fill', '#fff').attr('stroke', '#bdbdbd');
  g.append('g').selectAll('rect').data(p.off).join('rect')
    .attr('x', d => x(d[0])).attr('width', d => x(d[1]) - x(d[0]))
    .attr('y', b.y0 + 4.5).attr('height', b.y1 - b.y0 - 9)
    .attr('fill', '#ff0000').attr('stroke', '#5a0000').attr('stroke-width', 0.8);
  g.append('g').selectAll('rect').data(p.on).join('rect')
    .attr('x', d => x(d[0])).attr('width', d => x(d[1]) - x(d[0]))
    .attr('y', b.y0 + 1).attr('height', b.y1 - b.y0 - 2)
    .attr('fill', '#33cc33').attr('stroke', '#1f6b1f').attr('stroke-width', 0.8);
  g.append('g').selectAll('line').data(minorHours).join('line')
    .attr('x1', d => x(d)).attr('x2', d => x(d))
    .attr('y1', b.y1).attr('y2', d => b.y1 + (Number.isInteger(d) ? 5 : 3))
    .attr('stroke', tickColor);
  g.append('text').attr('x', 78).attr('y', (b.y0 + b.y1) / 2).attr('dy', '0.35em')
    .attr('text-anchor', 'end').attr('font-size', 14).text(p.barLabel);

  // x tick labels and x label
  g.append('g').selectAll('text').data(hourTicks).join('text')
    .attr('x', d => x(d)).attr('y', p.tickLabelY)
    .attr('text-anchor', 'middle').attr('font-size', 22)
    .text(d => String(d));
  fitText(g.append('text').attr('x', 550).attr('y', p.xLabelY)
    .attr('text-anchor', 'middle').attr('font-size', 26).text(xLabel), 636);

  // colour bar
  const cb = p.cbScale;
  g.append('g').selectAll('rect').data(d3.range(top, bottom)).join('rect')
    .attr('x', cbLeft).attr('width', cbRight - cbLeft)
    .attr('y', d => d).attr('height', 1.5)
    .attr('fill', d => p.color(cb.invert(d + 0.5)));
  g.append('rect').attr('x', cbLeft).attr('y', top)
    .attr('width', cbRight - cbLeft).attr('height', bottom - top)
    .attr('fill', 'none').attr('stroke', spineColor);
  g.append('g').selectAll('line').data(p.cbMinor).join('line')
    .attr('x1', cbRight).attr('x2', cbRight + 3)
    .attr('y1', d => cb(d)).attr('y2', d => cb(d)).attr('stroke', tickColor);
  g.append('g').selectAll('line').data(p.cbTicks).join('line')
    .attr('x1', cbRight).attr('x2', cbRight + 5)
    .attr('y1', d => cb(d)).attr('y2', d => cb(d)).attr('stroke', tickColor);
  g.append('g').selectAll('text').data(p.cbTicks).join('text')
    .attr('x', cbRight + 7).attr('y', d => cb(d)).attr('dy', '0.35em')
    .attr('font-size', 22)
    .each(function (d, i) { tickText(d3.select(this), p.cbLabels[i], 15); });

  const cbl = g.append('text')
    .attr('transform', `translate(${p.cbLabelX},${(top + bottom) / 2}) rotate(-90)`)
    .attr('text-anchor', 'middle').attr('font-size', 24);
  p.cbLabel(cbl);
  fitText(cbl, p.cbLabelW);
}

// panel 1
const y1 = d3.scaleLog().domain(omiFreqRange).range([483, 62]);
const c1 = d3.scaleSequentialLog(d3.interpolateYlGnBu).domain(omiSnrRange);
const cb1 = d3.scaleLog().domain(omiSnrRange).range([483, 62]);
drawPanel({
  key: 'omicron', top: 62, bottom: 483, y: y1,
  title: omiTitle, subtitle: omiSubtitle, titleY: 33, subY: 57, titleW: 465, subW: 544,
  yGrid: y1.ticks(), yTicks: omiFreqTicks, yLabels: omiFreqLabels,
  yMinor: y1.ticks().filter(v => !omiFreqTicks.includes(v)),
  yLabel: 'Frequency [Hz]', yLabelX: 30, yLabelW: 156,
  points: omiPoints, color: c1, radius: 3.5, opacity: 1, star: omiLoudest,
  bar: { y0: 492, y1: 507 }, on: lockedOn, off: lockedOff, barLabel: 'Locked',
  tickLabelY: 534, xLabelY: 564,
  cbScale: cb1, cbTicks: omiSnrTicks, cbLabels: omiSnrLabels,
  cbMinor: cb1.ticks().filter(v => !omiSnrTicks.includes(v)),
  cbLabel: t => t.text('Signal to noise ratio (SNR)'), cbLabelX: 1101, cbLabelW: 285
});

// panel 2
const y2 = d3.scaleLinear().domain(pyDurRange).range([1062, 641]);
const c2 = d3.scaleSequential(d3.interpolateYlGnBu).domain(pySnrRange);
const cb2 = d3.scaleLinear().domain(pySnrRange).range([1062, 642]);
drawPanel({
  key: 'pycbc', top: 641, bottom: 1062, y: y2,
  title: pyTitle, subtitle: pySubtitle, titleY: 612, subY: 636, titleW: 493, subW: 620,
  yGrid: pyDurTicks, yTicks: pyDurTicks, yLabels: pyDurLabels, yMinor: [],
  yLabel: 'Template duration [s]', yLabelX: 33, yLabelW: 229,
  points: pyPoints, color: c2, radius: 3.2, opacity: 0.75, star: pyLoudest,
  bar: { y0: 1071, y1: 1086 }, on: observingOn, off: observingOff, barLabel: 'Observing',
  tickLabelY: 1113, xLabelY: 1143,
  cbScale: cb2, cbTicks: pySnrTicks, cbLabels: pySnrLabels, cbMinor: [],
  cbLabel: t => {
    t.text('\u03c7');
    t.append('tspan').attr('dy', -9).attr('font-size', 16).text('2');
    t.append('tspan').attr('dy', 9).text('-weighted SNR (newSNR)');
  },
  cbLabelX: 1103, cbLabelW: 305
});
</script>
</body>
</html>
